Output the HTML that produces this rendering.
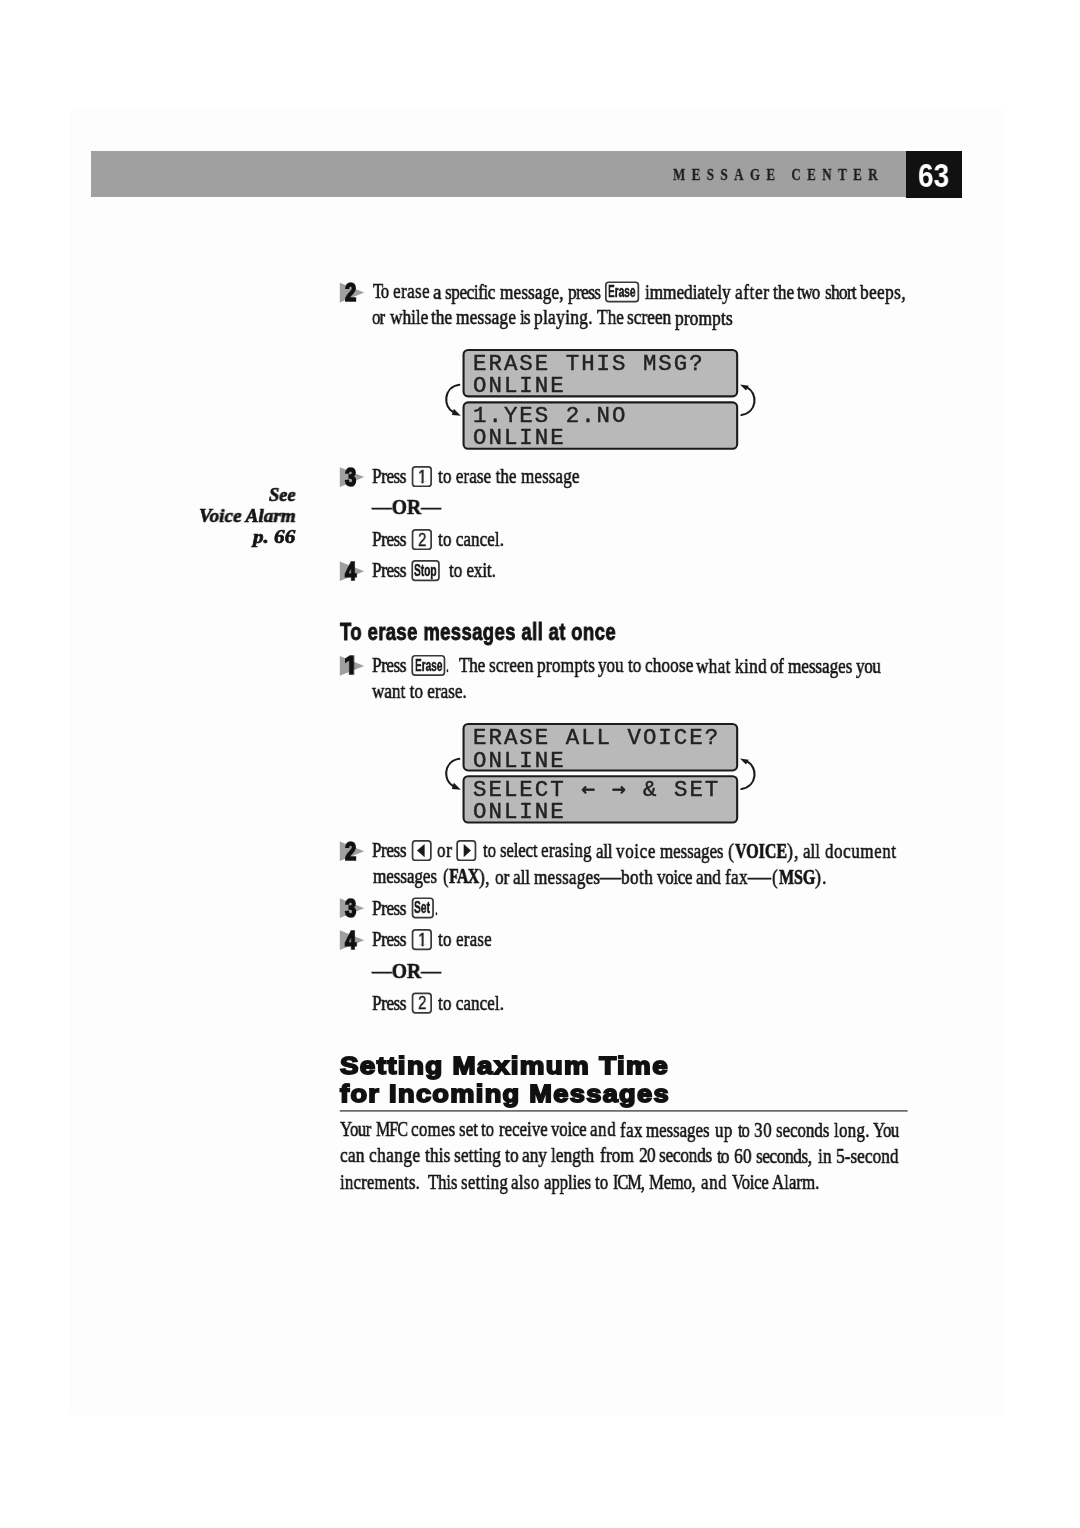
<!DOCTYPE html>
<html lang="en"><head><meta charset="utf-8"><title>Message Center – page 63</title>
<style>
*{margin:0;padding:0;box-sizing:border-box}
html,body{width:1080px;height:1528px;background:#fff;overflow:hidden}
.paper{position:absolute;left:70px;top:110px;width:935px;height:1305px;background:#fdfdfd}
body{position:relative;font-family:"Liberation Serif",serif;color:#141414}
.t{position:absolute;white-space:nowrap;transform-origin:0 0;line-height:1;display:block;will-change:transform}
.b{font-family:"Liberation Serif",serif;-webkit-text-stroke:0.6px #141414}
.b b{font-weight:bold}
.bb{font-family:"Liberation Serif",serif;font-weight:bold;-webkit-text-stroke:0.7px #141414}
.b b.sc{font-size:0.87em}
.hd{font-family:"Liberation Serif",serif;font-weight:bold;color:#1e1e1e;-webkit-text-stroke:0.3px #1e1e1e}
.pg{font-family:"Liberation Sans",sans-serif;font-weight:bold;color:#fff}
.sn{font-family:"Liberation Serif",serif;font-weight:bold;font-style:italic;-webkit-text-stroke:0.7px #141414}
.h3{font-family:"Liberation Sans",sans-serif;font-weight:bold;-webkit-text-stroke:0.9px #141414}
.h2{font-family:"Liberation Sans",sans-serif;font-weight:bold;-webkit-text-stroke:1.8px #111;color:#111}
.sd{font-family:"Liberation Sans",sans-serif;font-weight:bold;-webkit-text-stroke:1.6px #111;color:#111}
.lcd{font-family:"Liberation Mono",monospace;color:#222;-webkit-text-stroke:0.45px #222}
.lcd i{font-family:"DejaVu Sans Mono",monospace;font-style:normal;font-size:1em;line-height:0;-webkit-text-stroke:0.7px #222}
.k{font-family:"Liberation Sans",sans-serif;font-weight:bold;color:#1a1a1a;-webkit-text-stroke:0.5px #1a1a1a}
.kd{font-family:"Liberation Sans",sans-serif;color:#1a1a1a;-webkit-text-stroke:0.4px #1a1a1a}
.bar{position:absolute;left:91px;top:151px;width:815px;height:46px;background:#a0a0a0}
.pgbox{position:absolute;left:905.5px;top:151px;width:56.5px;height:46.5px;background:#111}
.lb{position:absolute;border:2px solid #1c1c1c;border-radius:6px;background:#b8b8b8}
.kb{position:absolute;border:1.8px solid #333;border-radius:3.5px;background:#fdfdfd}
.rule{position:absolute;left:340px;top:1111px;width:567.5px;height:1.3px;background:#555}
svg{position:absolute;left:0;top:0;overflow:visible;z-index:2;pointer-events:none}
.t{z-index:3}
</style></head>
<body>
<div class="paper"></div><div class="bar"></div><div class="pgbox"></div>
<svg width="1080" height="1528" viewBox="0 0 1080 1528">
<polygon points="339.8,282.8 364.2,292.6 339.8,302.5" fill="#a0a0a0"/>
<polygon points="339.8,467.2 364.2,477.0 339.8,486.9" fill="#a0a0a0"/>
<polygon points="339.8,561.4 364.2,571.2 339.8,581.1" fill="#a0a0a0"/>
<polygon points="339.8,656.1 364.2,666.0 339.8,675.8" fill="#a0a0a0"/>
<polygon points="339.8,841.4 364.2,851.2 339.8,861.1" fill="#a0a0a0"/>
<polygon points="339.8,898.3 364.2,908.2 339.8,918.0" fill="#a0a0a0"/>
<polygon points="339.8,930.3 364.2,940.2 339.8,950.0" fill="#a0a0a0"/>
<path d="M459.3,384.8 C443,387.3 443,407.0 453.4,412.2" fill="none" stroke="#1a1a1a" stroke-width="2.1" stroke-linecap="round"/>
<polygon points="460.8,415.8 453.8,408.8 451.9,415.1" fill="#1a1a1a"/>
<path d="M741.4,415.0 C757.7,412.5 757.7,392.8 747.3,387.6" fill="none" stroke="#1a1a1a" stroke-width="2.1" stroke-linecap="round"/>
<polygon points="740.0,384.4 748.8,385.7 746.0,390.6" fill="#1a1a1a"/>
<path d="M459.3,758.8 C443,761.3 443,781.0 453.4,786.2" fill="none" stroke="#1a1a1a" stroke-width="2.1" stroke-linecap="round"/>
<polygon points="460.8,789.8 453.8,782.8 451.9,789.1" fill="#1a1a1a"/>
<path d="M741.4,789.0 C757.7,786.5 757.7,766.8 747.3,761.6" fill="none" stroke="#1a1a1a" stroke-width="2.1" stroke-linecap="round"/>
<polygon points="740.0,758.4 748.8,759.7 746.0,764.6" fill="#1a1a1a"/>
<rect x="605.85" y="282.25" width="32.50" height="19.40" rx="2.8" fill="#fdfdfd" stroke="#383838" stroke-width="1.7"/>
<rect x="412.55" y="466.85" width="18.60" height="19.40" rx="2.8" fill="#fdfdfd" stroke="#383838" stroke-width="1.7"/>
<rect x="412.55" y="529.85" width="18.60" height="19.40" rx="2.8" fill="#fdfdfd" stroke="#383838" stroke-width="1.7"/>
<rect x="412.25" y="560.95" width="26.70" height="19.40" rx="2.8" fill="#fdfdfd" stroke="#383838" stroke-width="1.7"/>
<rect x="412.25" y="655.75" width="32.20" height="19.40" rx="2.8" fill="#fdfdfd" stroke="#383838" stroke-width="1.7"/>
<rect x="412.55" y="840.85" width="18.30" height="19.40" rx="2.8" fill="#fdfdfd" stroke="#383838" stroke-width="1.7"/>
<rect x="457.15" y="840.85" width="18.30" height="19.40" rx="2.8" fill="#fdfdfd" stroke="#383838" stroke-width="1.7"/>
<rect x="412.55" y="898.25" width="20.50" height="19.40" rx="2.8" fill="#fdfdfd" stroke="#383838" stroke-width="1.7"/>
<rect x="412.55" y="929.95" width="18.60" height="19.40" rx="2.8" fill="#fdfdfd" stroke="#383838" stroke-width="1.7"/>
<rect x="412.55" y="993.45" width="18.60" height="19.40" rx="2.8" fill="#fdfdfd" stroke="#383838" stroke-width="1.7"/>
<polygon points="417.0,850.6 424.6,844.0 424.6,857.2" fill="#1a1a1a"/>
<polygon points="470.9,850.6 463.7,844.0 463.7,857.2" fill="#1a1a1a"/>
</svg>
<svg width="1080" height="1528" viewBox="0 0 1080 1528" style="z-index:1">
<rect x="463.55" y="349.95" width="273.60" height="46.40" rx="4.6" fill="#b9b9b9" stroke="#1c1c1c" stroke-width="2.1"/>
<rect x="463.55" y="402.35" width="273.60" height="46.40" rx="4.6" fill="#b9b9b9" stroke="#1c1c1c" stroke-width="2.1"/>
<rect x="463.55" y="723.95" width="273.60" height="46.50" rx="4.6" fill="#b9b9b9" stroke="#1c1c1c" stroke-width="2.1"/>
<rect x="463.55" y="776.25" width="273.60" height="46.30" rx="4.6" fill="#b9b9b9" stroke="#1c1c1c" stroke-width="2.1"/>
<rect x="339.8" y="1110.2" width="567.8" height="1.4" fill="#4a4a4a"/>
</svg>
<div class="t hd" style="left:672.90px;font-size:16.2px;top:166.60px;letter-spacing:8.00px;transform:scaleX(0.8034);">MESSAGE CENTER</div>
<div class="t pg" style="left:917.70px;font-size:34px;top:158.00px;transform:scaleX(0.8221);">63</div>
<div class="t sd" style="left:344.90px;font-size:26.0px;top:279.10px;transform:scaleX(0.7810);">2</div>
<div class="t b" style="left:372.50px;font-size:22.0px;top:280.44px;letter-spacing:-1.30px;transform:scaleX(0.7453);">To</div>
<div class="t b" style="left:392.50px;font-size:22.0px;top:280.46px;letter-spacing:0.41px;transform:scaleX(0.7837);">erase</div>
<div class="t b" style="left:432.64px;font-size:22.0px;top:280.50px;transform:scaleX(0.8620);">a</div>
<div class="t b" style="left:445.00px;font-size:22.0px;top:280.51px;letter-spacing:-0.58px;transform:scaleX(0.7837);">specific</div>
<div class="t b" style="left:500.00px;font-size:22.0px;top:280.57px;letter-spacing:0.14px;transform:scaleX(0.7837);">message,</div>
<div class="t b" style="left:567.50px;font-size:22.0px;top:280.64px;letter-spacing:-0.76px;transform:scaleX(0.7837);">press</div>
<div class="t k" style="left:608.30px;font-size:17.3px;top:283.30px;transform:scaleX(0.5839);">Erase</div>
<div class="t b" style="left:644.50px;font-size:22.0px;top:280.71px;letter-spacing:-0.07px;transform:scaleX(0.7837);">immediately</div>
<div class="t b" style="left:735.00px;font-size:22.0px;top:280.81px;letter-spacing:0.73px;transform:scaleX(0.7837);">after</div>
<div class="t b" style="left:772.50px;font-size:22.0px;top:280.84px;letter-spacing:0.09px;transform:scaleX(0.7837);">the</div>
<div class="t b" style="left:797.00px;font-size:22.0px;top:280.87px;letter-spacing:-1.30px;transform:scaleX(0.7599);">two</div>
<div class="t b" style="left:824.50px;font-size:22.0px;top:280.89px;letter-spacing:-0.89px;transform:scaleX(0.7837);">short</div>
<div class="t b" style="left:860.00px;font-size:22.0px;top:280.93px;letter-spacing:0.52px;transform:scaleX(0.7837);">beeps,</div>
<div class="t b" style="left:372.00px;font-size:22.0px;top:306.20px;letter-spacing:-1.30px;transform:scaleX(0.7684);">or</div>
<div class="t b" style="left:390.00px;font-size:22.0px;top:306.22px;letter-spacing:-0.11px;transform:scaleX(0.7889);">while</div>
<div class="t b" style="left:431.30px;font-size:22.0px;top:306.26px;transform:scaleX(0.7889);">the</div>
<div class="t b" style="left:456.30px;font-size:22.0px;top:306.29px;letter-spacing:0.23px;transform:scaleX(0.7889);">message</div>
<div class="t b" style="left:520.00px;font-size:22.0px;top:306.35px;letter-spacing:-1.30px;transform:scaleX(0.7883);">is</div>
<div class="t b" style="left:533.80px;font-size:22.0px;top:306.36px;letter-spacing:0.38px;transform:scaleX(0.7889);">playing.</div>
<div class="t b" style="left:596.70px;font-size:22.0px;top:306.43px;letter-spacing:-0.05px;transform:scaleX(0.7889);">The</div>
<div class="t b" style="left:626.80px;font-size:22.0px;top:306.46px;letter-spacing:-0.06px;transform:scaleX(0.7889);">screen</div>
<div class="t b" style="left:675.00px;font-size:22.0px;top:306.50px;letter-spacing:0.14px;transform:scaleX(0.7889);">prompts</div>
<div class="t lcd" style="left:473.10px;top:353.10px;font-size:22.4px;letter-spacing:2.01px">ERASE THIS MSG?</div>
<div class="t lcd" style="left:473.10px;top:375.40px;font-size:22.4px;letter-spacing:2.01px">ONLINE</div>
<div class="t lcd" style="left:473.10px;top:404.80px;font-size:22.4px;letter-spacing:2.01px">1.YES 2.NO</div>
<div class="t lcd" style="left:473.10px;top:427.10px;font-size:22.4px;letter-spacing:2.01px">ONLINE</div>
<div class="t sd" style="left:344.90px;font-size:26.0px;top:463.50px;transform:scaleX(0.7810);">3</div>
<div class="t b" style="left:372.20px;font-size:22.0px;top:465.26px;letter-spacing:-0.59px;transform:scaleX(0.7811);">Press</div>
<div class="t kd" style="left:417.60px;font-size:18.6px;top:467.60px;transform:scaleX(0.8411);clip-path:polygon(-20% -20%,120% -20%,120% 71.5%,64% 71.5%,64% 120%,41% 120%,41% 71.5%,-20% 71.5%);">1</div>
<div class="t b" style="left:437.80px;font-size:22.0px;top:465.33px;letter-spacing:0.04px;transform:scaleX(0.7811);">to erase the message</div>
<div class="t sn" style="left:268.80px;font-size:19.5px;top:484.90px;transform:scaleX(0.9447);">See</div>
<div class="t sn" style="left:198.80px;font-size:19.5px;top:505.90px;transform:scaleX(0.9816);">Voice Alarm</div>
<div class="t b" style="left:371.70px;font-size:22.0px;top:496.30px;transform:scaleX(0.8948);">—<b>OR</b>—</div>
<div class="t sn" style="left:253.20px;font-size:19.5px;top:526.70px;transform:scaleX(1.0821);">p. 66</div>
<div class="t b" style="left:372.20px;font-size:22.0px;top:528.26px;letter-spacing:-0.59px;transform:scaleX(0.7811);">Press</div>
<div class="t kd" style="left:417.60px;font-size:18.6px;top:530.60px;transform:scaleX(0.8121);">2</div>
<div class="t b" style="left:437.80px;font-size:22.0px;top:528.33px;letter-spacing:0.02px;transform:scaleX(0.7811);">to cancel.</div>
<div class="t sd" style="left:344.90px;font-size:26.0px;top:557.70px;transform:scaleX(0.7810);">4</div>
<div class="t b" style="left:372.20px;font-size:22.0px;top:559.37px;letter-spacing:-0.59px;transform:scaleX(0.7811);">Press</div>
<div class="t k" style="left:414.40px;font-size:17.3px;top:562.00px;transform:scaleX(0.5884);">Stop</div>
<div class="t b" style="left:449.40px;font-size:22.0px;top:559.45px;letter-spacing:-0.15px;transform:scaleX(0.7811);">to exit.</div>
<div class="t h3" style="left:340.10px;font-size:24.3px;top:619.60px;letter-spacing:0.50px;transform:scaleX(0.7613);">To erase messages all at once</div>
<div class="t sd" style="left:344.30px;font-size:26.0px;top:652.40px;transform:scaleX(0.9607);clip-path:polygon(-20% -20%,120% -20%,120% 69.5%,72% 69.5%,72% 120%,36% 120%,36% 69.5%,-20% 69.5%);">1</div>
<div class="t b" style="left:372.20px;font-size:22.0px;top:654.20px;letter-spacing:-0.60px;transform:scaleX(0.7821);">Press</div>
<div class="t k" style="left:414.60px;font-size:17.3px;top:656.80px;transform:scaleX(0.5818);">Erase</div>
<div class="t b" style="left:445.50px;font-size:22.0px;top:654.28px;transform:scaleX(0.5455);">.</div>
<div class="t b" style="left:458.80px;font-size:22.0px;top:654.29px;letter-spacing:-0.35px;transform:scaleX(0.7821);">The</div>
<div class="t b" style="left:488.80px;font-size:22.0px;top:654.32px;letter-spacing:0.09px;transform:scaleX(0.7821);">screen</div>
<div class="t b" style="left:537.00px;font-size:22.0px;top:654.37px;letter-spacing:0.31px;transform:scaleX(0.7821);">prompts</div>
<div class="t b" style="left:598.00px;font-size:22.0px;top:654.43px;letter-spacing:-0.13px;transform:scaleX(0.7821);">you</div>
<div class="t b" style="left:628.00px;font-size:22.0px;top:654.46px;letter-spacing:-0.11px;transform:scaleX(0.7821);">to</div>
<div class="t b" style="left:645.00px;font-size:22.0px;top:654.48px;letter-spacing:0.11px;transform:scaleX(0.7821);">choose</div>
<div class="t b" style="left:696.30px;font-size:22.0px;top:654.53px;letter-spacing:0.40px;transform:scaleX(0.7821);">what</div>
<div class="t b" style="left:734.50px;font-size:22.0px;top:654.56px;letter-spacing:0.43px;transform:scaleX(0.7821);">kind</div>
<div class="t b" style="left:770.00px;font-size:22.0px;top:654.60px;letter-spacing:-0.59px;transform:scaleX(0.7821);">of</div>
<div class="t b" style="left:788.00px;font-size:22.0px;top:654.62px;letter-spacing:-0.12px;transform:scaleX(0.7821);">messages</div>
<div class="t b" style="left:856.30px;font-size:22.0px;top:654.69px;letter-spacing:-0.58px;transform:scaleX(0.7821);">you</div>
<div class="t b" style="left:372.20px;font-size:22.0px;top:680.30px;letter-spacing:-0.02px;transform:scaleX(0.7811);">want to erase.</div>
<div class="t lcd" style="left:473.10px;top:727.10px;font-size:22.4px;letter-spacing:2.01px">ERASE ALL VOICE?</div>
<div class="t lcd" style="left:473.10px;top:749.50px;font-size:22.4px;letter-spacing:2.01px">ONLINE</div>
<div class="t lcd" style="left:473.10px;top:778.80px;font-size:22.4px;letter-spacing:2.01px">SELECT <i>←</i> <i>→</i> &amp; SET</div>
<div class="t lcd" style="left:473.10px;top:801.00px;font-size:22.4px;letter-spacing:2.01px">ONLINE</div>
<div class="t sd" style="left:344.90px;font-size:26.0px;top:837.70px;transform:scaleX(0.7810);">2</div>
<div class="t b" style="left:372.20px;font-size:22.0px;top:839.30px;letter-spacing:-0.41px;transform:scaleX(0.7685);">Press</div>
<div class="t b" style="left:437.00px;font-size:22.0px;top:839.37px;letter-spacing:0.91px;transform:scaleX(0.7685);">or</div>
<div class="t b" style="left:482.50px;font-size:22.0px;top:839.41px;letter-spacing:-0.07px;transform:scaleX(0.7685);">to</div>
<div class="t b" style="left:499.50px;font-size:22.0px;top:839.43px;letter-spacing:-0.26px;transform:scaleX(0.7685);">select</div>
<div class="t b" style="left:541.30px;font-size:22.0px;top:839.47px;letter-spacing:0.38px;transform:scaleX(0.7685);">erasing</div>
<div class="t b" style="left:596.30px;font-size:22.0px;top:839.53px;letter-spacing:-0.33px;transform:scaleX(0.7685);">all</div>
<div class="t b" style="left:616.30px;font-size:22.0px;top:839.55px;letter-spacing:0.90px;transform:scaleX(0.7685);">voice</div>
<div class="t b" style="left:659.50px;font-size:22.0px;top:839.59px;letter-spacing:-0.06px;transform:scaleX(0.7685);">messages</div>
<div class="t b" style="left:727.90px;font-size:22.0px;top:839.66px;transform:scaleX(0.8143);">(</div>
<div class="t bb" style="left:735.00px;font-size:21.0px;top:840.67px;letter-spacing:0.10px;transform:scaleX(0.7579);">VOICE</div>
<div class="t b" style="left:786.70px;font-size:22.0px;top:839.72px;letter-spacing:1.30px;transform:scaleX(0.8070);">),</div>
<div class="t b" style="left:802.50px;font-size:22.0px;top:839.73px;letter-spacing:0.06px;transform:scaleX(0.7685);">all</div>
<div class="t b" style="left:824.50px;font-size:22.0px;top:839.75px;letter-spacing:0.80px;transform:scaleX(0.7685);">document</div>
<div class="t b" style="left:372.50px;font-size:22.0px;top:865.40px;letter-spacing:-0.15px;transform:scaleX(0.7807);">messages</div>
<div class="t b" style="left:442.50px;font-size:22.0px;top:865.47px;transform:scaleX(0.7571);">(</div>
<div class="t bb" style="left:448.80px;font-size:21.0px;top:866.48px;letter-spacing:-0.86px;transform:scaleX(0.7579);">FAX</div>
<div class="t b" style="left:478.80px;font-size:22.0px;top:865.51px;letter-spacing:0.61px;transform:scaleX(0.7807);">),</div>
<div class="t b" style="left:494.50px;font-size:22.0px;top:865.52px;letter-spacing:0.08px;transform:scaleX(0.7807);">or</div>
<div class="t b" style="left:513.00px;font-size:22.0px;top:865.54px;letter-spacing:-0.12px;transform:scaleX(0.7807);">all</div>
<div class="t b" style="left:533.80px;font-size:22.0px;top:865.56px;letter-spacing:0.21px;transform:scaleX(0.7807);">messages</div>
<div class="t b" style="left:599.75px;font-size:22.0px;top:865.63px;transform:scaleX(0.9500);">—</div>
<div class="t b" style="left:621.30px;font-size:22.0px;top:865.65px;letter-spacing:0.54px;transform:scaleX(0.7807);">both</div>
<div class="t b" style="left:657.00px;font-size:22.0px;top:865.69px;letter-spacing:-0.54px;transform:scaleX(0.7807);">voice</div>
<div class="t b" style="left:696.30px;font-size:22.0px;top:865.73px;transform:scaleX(0.7807);">and</div>
<div class="t b" style="left:725.00px;font-size:22.0px;top:865.76px;letter-spacing:0.43px;transform:scaleX(0.7807);">fax</div>
<div class="t b" style="left:748.04px;font-size:22.0px;top:865.78px;transform:scaleX(1.0375);">—</div>
<div class="t b" style="left:772.00px;font-size:22.0px;top:865.80px;transform:scaleX(0.7857);">(</div>
<div class="t bb" style="left:778.80px;font-size:21.0px;top:866.81px;transform:scaleX(0.7579);">MSG</div>
<div class="t b" style="left:815.00px;font-size:22.0px;top:865.85px;letter-spacing:1.30px;transform:scaleX(0.8073);">).</div>
<div class="t sd" style="left:344.90px;font-size:26.0px;top:894.60px;transform:scaleX(0.7810);">3</div>
<div class="t b" style="left:372.20px;font-size:22.0px;top:896.90px;letter-spacing:-0.59px;transform:scaleX(0.7811);">Press</div>
<div class="t k" style="left:414.40px;font-size:17.3px;top:899.30px;transform:scaleX(0.5909);">Set</div>
<div class="t b" style="left:434.50px;font-size:22.0px;top:896.97px;transform:scaleX(0.5455);">.</div>
<div class="t sd" style="left:344.90px;font-size:26.0px;top:926.60px;transform:scaleX(0.7810);">4</div>
<div class="t b" style="left:372.20px;font-size:22.0px;top:928.40px;letter-spacing:-0.59px;transform:scaleX(0.7811);">Press</div>
<div class="t kd" style="left:417.60px;font-size:18.6px;top:930.70px;transform:scaleX(0.8411);clip-path:polygon(-20% -20%,120% -20%,120% 71.5%,64% 71.5%,64% 120%,41% 120%,41% 71.5%,-20% 71.5%);">1</div>
<div class="t b" style="left:437.80px;font-size:22.0px;top:928.47px;letter-spacing:0.14px;transform:scaleX(0.7811);">to erase</div>
<div class="t b" style="left:371.70px;font-size:22.0px;top:960.10px;transform:scaleX(0.8948);">—<b>OR</b>—</div>
<div class="t b" style="left:372.20px;font-size:22.0px;top:991.90px;letter-spacing:-0.59px;transform:scaleX(0.7811);">Press</div>
<div class="t kd" style="left:417.60px;font-size:18.6px;top:994.20px;transform:scaleX(0.8121);">2</div>
<div class="t b" style="left:437.80px;font-size:22.0px;top:991.97px;letter-spacing:0.02px;transform:scaleX(0.7811);">to cancel.</div>
<div class="t h2" style="left:339.70px;font-size:24.7px;top:1053.80px;letter-spacing:1.20px;transform:scaleX(1.1249);">Setting Maximum Time</div>
<div class="t h2" style="left:339.70px;font-size:24.7px;top:1081.50px;letter-spacing:1.20px;transform:scaleX(1.1013);">for Incoming Messages</div>
<div class="t b" style="left:340.00px;font-size:22.0px;top:1118.23px;letter-spacing:-0.70px;transform:scaleX(0.7669);">Your</div>
<div class="t b" style="left:375.86px;font-size:22.0px;top:1118.27px;letter-spacing:-1.30px;transform:scaleX(0.7286);">MFC</div>
<div class="t b" style="left:411.30px;font-size:22.0px;top:1118.30px;letter-spacing:0.37px;transform:scaleX(0.7669);">comes</div>
<div class="t b" style="left:458.80px;font-size:22.0px;top:1118.35px;letter-spacing:0.09px;transform:scaleX(0.7669);">set</div>
<div class="t b" style="left:481.30px;font-size:22.0px;top:1118.37px;letter-spacing:-0.03px;transform:scaleX(0.7669);">to</div>
<div class="t b" style="left:498.80px;font-size:22.0px;top:1118.39px;transform:scaleX(0.7669);">receive</div>
<div class="t b" style="left:550.50px;font-size:22.0px;top:1118.44px;letter-spacing:-0.28px;transform:scaleX(0.7669);">voice</div>
<div class="t b" style="left:590.00px;font-size:22.0px;top:1118.48px;letter-spacing:0.81px;transform:scaleX(0.7669);">and</div>
<div class="t b" style="left:619.50px;font-size:22.0px;top:1118.51px;letter-spacing:0.56px;transform:scaleX(0.7669);">fax</div>
<div class="t b" style="left:646.30px;font-size:22.0px;top:1118.54px;letter-spacing:-0.04px;transform:scaleX(0.7669);">messages</div>
<div class="t b" style="left:715.40px;font-size:22.0px;top:1118.61px;letter-spacing:0.43px;transform:scaleX(0.7669);">up</div>
<div class="t b" style="left:737.90px;font-size:22.0px;top:1118.63px;letter-spacing:-1.30px;transform:scaleX(0.7526);">to</div>
<div class="t b" style="left:754.23px;font-size:22.0px;top:1118.64px;letter-spacing:0.91px;transform:scaleX(0.7669);">30</div>
<div class="t b" style="left:775.60px;font-size:22.0px;top:1118.67px;transform:scaleX(0.7669);">seconds</div>
<div class="t b" style="left:833.60px;font-size:22.0px;top:1118.72px;letter-spacing:0.38px;transform:scaleX(0.7669);">long.</div>
<div class="t b" style="left:872.80px;font-size:22.0px;top:1118.76px;letter-spacing:-0.70px;transform:scaleX(0.7669);">You</div>
<div class="t b" style="left:340.00px;font-size:22.0px;top:1144.17px;letter-spacing:0.19px;transform:scaleX(0.7896);">can</div>
<div class="t b" style="left:368.80px;font-size:22.0px;top:1144.20px;letter-spacing:0.51px;transform:scaleX(0.7896);">change</div>
<div class="t b" style="left:424.50px;font-size:22.0px;top:1144.25px;letter-spacing:0.10px;transform:scaleX(0.7896);">this</div>
<div class="t b" style="left:453.80px;font-size:22.0px;top:1144.28px;letter-spacing:0.10px;transform:scaleX(0.7896);">setting</div>
<div class="t b" style="left:504.50px;font-size:22.0px;top:1144.33px;letter-spacing:0.11px;transform:scaleX(0.7896);">to</div>
<div class="t b" style="left:522.00px;font-size:22.0px;top:1144.35px;letter-spacing:-0.12px;transform:scaleX(0.7896);">any</div>
<div class="t b" style="left:551.30px;font-size:22.0px;top:1144.38px;letter-spacing:-0.08px;transform:scaleX(0.7896);">length</div>
<div class="t b" style="left:600.40px;font-size:22.0px;top:1144.43px;letter-spacing:0.05px;transform:scaleX(0.7896);">from</div>
<div class="t b" style="left:638.90px;font-size:22.0px;top:1144.47px;letter-spacing:-1.10px;transform:scaleX(0.7896);">20</div>
<div class="t b" style="left:659.40px;font-size:22.0px;top:1144.49px;letter-spacing:-0.37px;transform:scaleX(0.7896);">seconds</div>
<div class="t b" style="left:717.10px;font-size:22.0px;top:1144.55px;letter-spacing:-1.28px;transform:scaleX(0.7896);">to</div>
<div class="t b" style="left:734.40px;font-size:22.0px;top:1144.56px;letter-spacing:0.16px;transform:scaleX(0.7896);">60</div>
<div class="t b" style="left:756.30px;font-size:22.0px;top:1144.59px;letter-spacing:-0.61px;transform:scaleX(0.7896);">seconds,</div>
<div class="t b" style="left:818.00px;font-size:22.0px;top:1144.65px;letter-spacing:0.11px;transform:scaleX(0.7896);">in</div>
<div class="t b" style="left:835.91px;font-size:22.0px;top:1144.67px;letter-spacing:-0.04px;transform:scaleX(0.7896);">5-second</div>
<div class="t b" style="left:340.00px;font-size:22.0px;top:1170.57px;letter-spacing:0.28px;transform:scaleX(0.7613);">increments.</div>
<div class="t b" style="left:428.00px;font-size:22.0px;top:1170.66px;letter-spacing:-0.20px;transform:scaleX(0.7613);">This</div>
<div class="t b" style="left:460.80px;font-size:22.0px;top:1170.69px;letter-spacing:0.47px;transform:scaleX(0.7613);">setting</div>
<div class="t b" style="left:511.30px;font-size:22.0px;top:1170.74px;letter-spacing:0.49px;transform:scaleX(0.7613);">also</div>
<div class="t b" style="left:543.80px;font-size:22.0px;top:1170.77px;letter-spacing:-0.09px;transform:scaleX(0.7613);">applies</div>
<div class="t b" style="left:595.00px;font-size:22.0px;top:1170.83px;letter-spacing:0.10px;transform:scaleX(0.7613);">to</div>
<div class="t b" style="left:613.00px;font-size:22.0px;top:1170.84px;letter-spacing:-1.30px;transform:scaleX(0.7360);">ICM,</div>
<div class="t b" style="left:648.80px;font-size:22.0px;top:1170.88px;letter-spacing:-0.40px;transform:scaleX(0.7613);">Memo,</div>
<div class="t b" style="left:701.30px;font-size:22.0px;top:1170.93px;letter-spacing:0.93px;transform:scaleX(0.7613);">and</div>
<div class="t b" style="left:732.00px;font-size:22.0px;top:1170.96px;letter-spacing:-0.38px;transform:scaleX(0.7613);">Voice</div>
<div class="t b" style="left:771.80px;font-size:22.0px;top:1171.00px;letter-spacing:0.11px;transform:scaleX(0.7613);">Alarm.</div>
</body></html>
